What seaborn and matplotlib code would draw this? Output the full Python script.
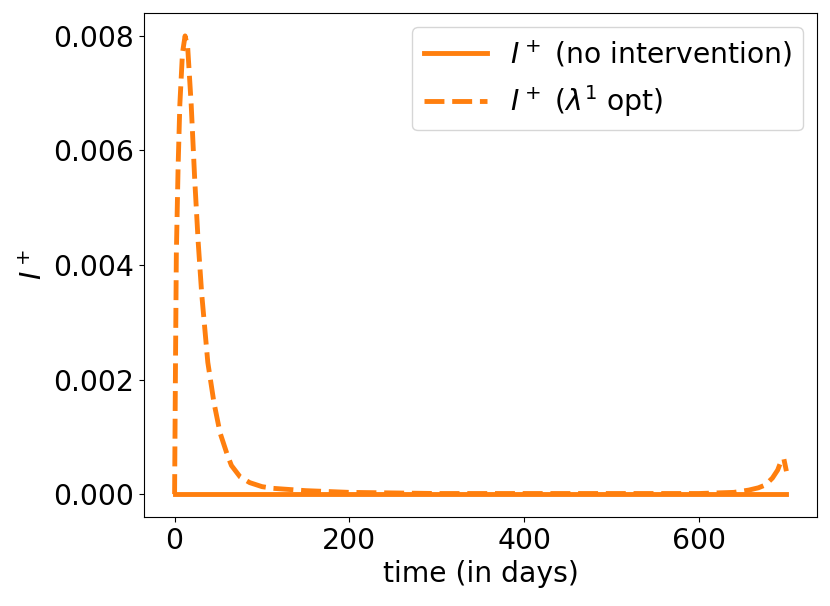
import matplotlib
matplotlib.use("Agg")
import matplotlib.pyplot as plt
import seaborn as sns
import pandas as pd

# I+ without intervention (stays at zero)
t_none = [0, 100, 200, 300, 400, 500, 600, 700]
i_none = [0, 0, 0, 0, 0, 0, 0, 0]

# I+ with optimal lambda^1
t_opt = [0, 1, 2, 4, 6, 9, 12, 15, 19, 23, 27, 31, 38, 45, 52, 60, 65, 75, 86,
         100, 113, 150, 200, 300, 400, 500, 600, 640, 657, 668, 676, 684, 690,
         694, 697, 700]
i_opt = [0, 0.0022, 0.0042, 0.0057, 0.0068, 0.0077, 0.0080, 0.0078, 0.0068,
         0.0055, 0.0044, 0.0035, 0.0023, 0.0016, 0.00107, 0.0007, 0.0005,
         0.0003, 0.0002, 0.00013, 0.0001, 0.00006, 0.00003, 0.00001, 0.00001,
         0.00001, 0.00001, 0.00003, 0.00007, 0.00011, 0.00016, 0.00028, 0.00042,
         0.00058, 0.00062, 0.00040]

plt.rcParams['font.family'] = ['DejaVu Sans']
plt.rcParams['font.size'] = 20.3
plt.rcParams['mathtext.fontset'] = 'dejavusans'

orange = '#ff7f0e'

fig, ax = plt.subplots(figsize=(8.3, 6.06), dpi=100)
fig.subplots_adjust(left=144/830, right=817/830, top=1-13/606, bottom=1-517/606)

df_none = pd.DataFrame({'t': t_none, 'i': i_none})
df_opt = pd.DataFrame({'t': t_opt, 'i': i_opt})

sns.lineplot(data=df_none, x='t', y='i', ax=ax, color=orange, linewidth=3.5,
             label=r'$I^+$ (no intervention)')
sns.lineplot(data=df_opt, x='t', y='i', ax=ax, color=orange, linewidth=3.5,
             linestyle=(0, (4.1, 1.6)), label=r'$I^+$ ($\lambda^1$ opt)')

ax.set_xlabel('time (in days)')
ax.set_ylabel(r'$I^+$')
ax.set_xticks([0, 200, 400, 600])
ax.set_yticks([0.000, 0.002, 0.004, 0.006, 0.008])
ax.set_yticklabels(['0.000', '0.002', '0.004', '0.006', '0.008'])
ax.legend(loc='upper right', handlelength=2.25)

plt.savefig('out.png', dpi=100)
